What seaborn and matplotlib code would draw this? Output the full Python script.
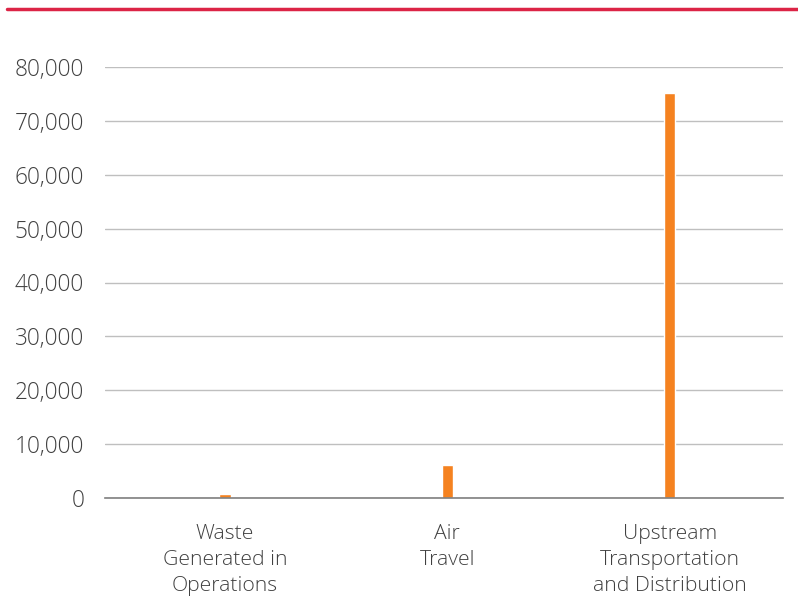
import matplotlib
matplotlib.use("Agg")
import matplotlib.pyplot as plt
import seaborn as sns
import pandas as pd
from matplotlib.lines import Line2D
from matplotlib.ticker import FuncFormatter

categories = ["Waste\nGenerated in\nOperations", "Air\nTravel", "Upstream\nTransportation\nand Distribution"]
values = [650, 6100, 75100]
yticks = [0, 10000, 20000, 30000, 40000, 50000, 60000, 70000, 80000]

sns.set_theme(style="white")
plt.rcParams['font.family'] = ['Open Sans', 'DejaVu Sans']

df = pd.DataFrame({"cat": categories, "val": values})

fig = plt.figure(figsize=(7.98, 5.98), dpi=100)
ax = fig.add_axes([105/798, 1-498/598, (783-105)/798, (498-67)/598])
sns.barplot(data=df, x="cat", y="val", color="#f58220", width=0.05, ax=ax, saturation=1)

ax.set_ylim(0, 80000)
ax.set_xlim(-0.54, 2.51)
ax.set_yticks(yticks)
ax.yaxis.set_major_formatter(FuncFormatter(lambda v, p: f"{int(v):,}"))
ax.grid(axis="y", color="#bfbfbf", linewidth=1)
ax.set_axisbelow(True)
for s in ["top", "right", "left"]:
    ax.spines[s].set_visible(False)
ax.spines["bottom"].set_color("#7f7f7f")
ax.spines["bottom"].set_linewidth(1.2)
ax.set_xlabel("")
ax.set_ylabel("")
ax.tick_params(axis="y", length=0, pad=15, labelsize=16.3, labelcolor="#404040")
ax.tick_params(axis="x", length=0, pad=19, labelsize=15.2, labelcolor="#404040")
for t in ax.get_xticklabels():
    t.set_linespacing(1.38)
for t in ax.get_yticklabels() + ax.get_xticklabels():
    t.set_fontweight("light")

fig.add_artist(Line2D([7/798, 1.0], [1-8.5/598, 1-8.5/598], color="#dc2446", linewidth=2.5, transform=fig.transFigure))

fig.savefig("out.png", dpi=100, facecolor="white")
